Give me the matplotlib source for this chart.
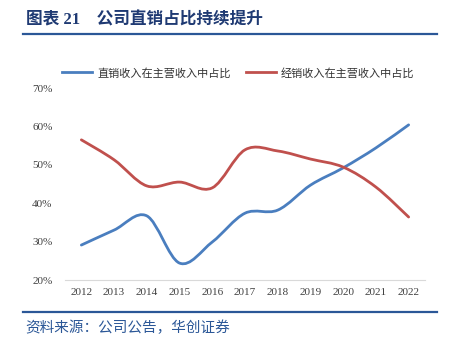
import matplotlib
matplotlib.use("Agg")
import matplotlib.pyplot as plt
from matplotlib.path import Path
from matplotlib.patches import PathPatch
from matplotlib.lines import Line2D
import numpy as np

years = ["2012", "2013", "2014", "2015", "2016", "2017", "2018", "2019", "2020", "2021", "2022"]
direct_share = [29.1, 33.0, 36.7, 24.4, 29.9, 37.4, 38.2, 44.7, 49.2, 54.4, 60.4]
dealer_share = [56.5, 51.3, 44.5, 45.5, 44.0, 53.9, 53.6, 51.5, 49.4, 44.2, 36.4]
series_names = ["直销收入在主营收入中占比", "经销收入在主营收入中占比"]
yticks = [20, 30, 40, 50, 60, 70]

BLUE = "#4A7EBF"
RED = "#C0504D"
NAVY = "#1F3A73"
RULE = "#2B5797"

CJK = ["Noto Sans CJK SC", "DejaVu Sans"]
SERIF_CJK = ["Liberation Serif", "Noto Sans CJK SC"]

fig = plt.figure(figsize=(4.5, 3.47), dpi=100)
W, H = 450, 347
ax = fig.add_axes([65 / W, 1 - 280 / H, 360 / W, 192 / H])


def smooth_path(xs, ys):
    pts = np.column_stack([xs, ys]).astype(float)
    n = len(pts)
    verts = [pts[0]]
    codes = [Path.MOVETO]
    for i in range(n - 1):
        p0 = pts[i - 1] if i > 0 else pts[i]
        p1 = pts[i]
        p2 = pts[i + 1]
        p3 = pts[i + 2] if i + 2 < n else pts[i + 1]
        c1 = p1 + (p2 - p0) / 6.0
        c2 = p2 - (p3 - p1) / 6.0
        verts += [c1, c2, p2]
        codes += [Path.CURVE4] * 3
    return Path(verts, codes)


x = np.arange(len(years))
for vals, col in [(direct_share, BLUE), (dealer_share, RED)]:
    patch = PathPatch(smooth_path(x, vals), facecolor="none", edgecolor=col,
                      lw=2.0, capstyle="round", joinstyle="round")
    ax.add_patch(patch)

ax.set_xlim(-0.5, len(years) - 0.5)
ax.set_ylim(20, 70)
ax.set_xticks(x)
ax.set_xticklabels(years, fontfamily="Liberation Serif", fontsize=8, color="#404040")
ax.set_yticks(yticks)
ax.set_yticklabels([f"{v}%" for v in yticks], fontfamily="Liberation Serif",
                   fontsize=8, color="#404040")
ax.tick_params(axis="x", length=0, pad=6)
ax.tick_params(axis="y", length=0, pad=9)
for s in ["top", "right", "left"]:
    ax.spines[s].set_visible(False)
ax.spines["bottom"].set_color("#D9D9D9")
ax.spines["bottom"].set_linewidth(0.8)

handles = [Line2D([], [], color=BLUE, lw=2.0), Line2D([], [], color=RED, lw=2.0)]
leg = fig.legend(handles, series_names, loc="center left",
                 bbox_to_anchor=(62 / W, 1 - 73 / H), ncol=2, frameon=False,
                 prop={"family": CJK, "size": 8}, handlelength=2.7,
                 handletextpad=0.45, columnspacing=1.35, borderpad=0, borderaxespad=0)
for t in leg.get_texts():
    t.set_color("#333333")

fig.text(26 / W, 1 - 20 / H, "图表 21    公司直销占比持续提升", fontsize=12,
         fontweight="bold", family=SERIF_CJK, color=NAVY, va="center", ha="left")
fig.add_artist(Line2D([23 / W, 437 / W], [1 - 34 / H, 1 - 34 / H], color=RULE, lw=1.6))
fig.add_artist(Line2D([23 / W, 437 / W], [1 - 312 / H, 1 - 312 / H], color=RULE, lw=1.6))
fig.text(25 / W, 1 - 328 / H, "资料来源：公司公告，华创证券", fontsize=10.5,
         family=CJK, color=RULE, va="center", ha="left")

fig.savefig("out.png", dpi=100)
